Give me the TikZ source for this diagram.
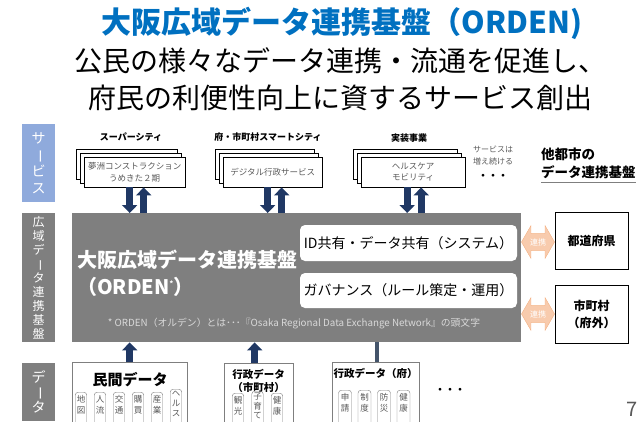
\documentclass[tikz,border=0pt]{standalone}
\usepackage{fontspec}
\setmainfont{Noto Sans CJK JP}
\usetikzlibrary{arrows.meta,shapes.arrows}
\definecolor{ordenblue}{HTML}{0070C0}
\definecolor{navy}{HTML}{203864}
\definecolor{slate}{HTML}{44546A}
\definecolor{panelgray}{HTML}{7F7F7F}
\definecolor{svcblue}{HTML}{8FAADC}
\definecolor{textgray}{HTML}{595959}
\definecolor{notegray}{HTML}{D9D9D9}
\definecolor{linkfill}{HTML}{F8CBAD}
\definecolor{linkedge}{HTML}{F4B183}
\newcommand\fsz[2]{\fontsize{#1}{#2}\selectfont}
\newcommand\vbar{\rotatebox[origin=c]{-90}{ー}}

\begin{document}
\begin{tikzpicture}[x=1pt,y=-1pt,
  every node/.style={inner sep=0pt},
  sidebar/.style={fill=#1,minimum width=33,text=white,align=center},
  svcbox/.style={draw=black,fill=white,anchor=north west,minimum height=30,
    align=center,text=textgray,font=\fsz{8.5}{11.5}},
  svclabel/.style={font=\bfseries\fsz{9}{9}},
  infobox/.style={fill=white,rounded corners=5pt,minimum width=217,font=\fsz{14}{14}},
  sidebox/.style={draw=black,fill=white,minimum width=73,align=center,
    font=\bfseries\fsz{12}{17}},
  linkarrow/.style={double arrow,draw=linkedge,fill=linkfill,minimum height=33,
    double arrow head extend=8pt,double arrow tip angle=120,
    inner xsep=0pt,inner ysep=4.5pt,text=white,font=\fsz{8}{8}},
  databox/.style={draw=panelgray,fill=white,anchor=north west,minimum height=70},
  chip/.style={draw=panelgray,rounded corners=3pt,anchor=north,align=center,
    inner xsep=1.5pt,inner ysep=3pt,text depth=40pt,text=textgray,font=\fsz{8.5}{11.5}},
  navyarrow/.style={navy,line width=7pt,-{Triangle[length=8pt,width=15pt]}}]
\useasboundingbox (0,0) rectangle (644,421);
\clip (0,0) rectangle (644,421);

% heading
\node[text=ordenblue,font=\bfseries\fsz{30}{30}] (title) at (342,23) {大阪広域データ連携基盤（ORDEN)};
\node[font=\fsz{28}{28}] (lead1) at (340,61) {公民の様々なデータ連携・流通を促進し、};
\node[font=\fsz{28}{28}] (lead2) at (340,98) {府民の利便性向上に資するサービス創出};

% layer labels
\node[sidebar=svcblue,minimum height=78,font=\fsz{14}{16.5}] (laysvc) at (38.5,163) {サ\\\vbar\\ビ\\ス};
\node[sidebar=panelgray,minimum height=129,font=\fsz{12}{14}] (layhub) at (38.5,277.5)
  {広\\域\\デ\\\vbar\\タ\\連\\携\\基\\盤};
\node[sidebar=panelgray,minimum height=58,font=\fsz{14}{14}] (laydata) at (38.5,392) {デ\\\vbar\\タ};

% services
\node[svclabel] (lblsuper) at (131,137) {スーパーシティ};
\node[svclabel] (lblsmart) at (268,137) {府・市町村スマートシティ};
\node[svclabel] (lblimpl) at (409,138) {実装事業};
\node[svcbox,minimum width=101] (svc1) at (84,157) {夢洲コンストラクション\\うめきた２期};
\node[svcbox,minimum width=99] (svc2) at (223,157) {デジタル行政サービス};
\node[svcbox,minimum width=104] (svc3) at (361,157) {ヘルスケア\\モビリティ};
\foreach \s in {svc1,svc2,svc3}
  \foreach \d in {8,4}
    \draw[fill=white] ([shift={(-\d,-\d)}]\s.north west) rectangle ([shift={(-\d,-\d)}]\s.south east);
% redraw front boxes on top
\node[svcbox,minimum width=101] at (84,157) {夢洲コンストラクション\\うめきた２期};
\node[svcbox,minimum width=99] at (223,157) {デジタル行政サービス};
\node[svcbox,minimum width=104] at (361,157) {ヘルスケア\\モビリティ};
\node[align=center,text=textgray,font=\fsz{8}{12}] (grow) at (493,156) {サービスは\\増え続ける};
\node[font=\bfseries\fsz{10}{10}] (svcdots) at (493,177) {・・・};
\node[anchor=north west,align=left,font=\bfseries\fsz{13.5}{18}] (others) at (541,148) {他都市の\\データ連携基盤};
\draw[panelgray] ([yshift=-3pt]others.south west) -- ([yshift=-3pt]others.south east);

% platform
\node[fill=panelgray,anchor=north west,minimum width=449,minimum height=129] (hub) at (72,213) {};
\node[anchor=west,align=left,text=white,font=\bfseries\fsz{20}{27}] (hubname) at (77,273)
  {大阪広域データ連携基盤\\（ORDEN\textsuperscript{\fsz{7}{7}*}）};
\node[infobox,minimum height=36] (sys) at (408.5,243) {ID共有・データ共有（システム）};
\node[infobox,minimum height=35] (gov) at (408.5,290.5) {ガバナンス（ルール策定・運用）};
\node[text=notegray,font=\fsz{9.8}{9.8}] (note) at (294,324)
  {* ORDEN（オルデン）とは･･･『Osaka Regional Data Exchange Network』の頭文字};

\foreach \s/\x in {svc1/-5,svc2/-5,svc3/-6} {
  \draw[navyarrow] ([xshift=\x pt]\s.south) -- ([xshift=\x pt]\s.south |- hub.north);
  \draw[navyarrow] ([xshift=\x pt+14pt]\s.south |- hub.north) -- ([xshift=\x pt+14pt]\s.south);
}

% other platforms
\node[sidebox,minimum height=57] (pref) at (591.5,240.5) {都道府県};
\node[sidebox,minimum height=58] (muni) at (591.5,314) {市町村\\（府外）};
\node[linkarrow] (link1) at (538,242) {連携};
\node[linkarrow] (link2) at (538,314) {連携};

% data
\node[databox,minimum width=115] (db1) at (72,362) {};
\node[databox,minimum width=69] (db2) at (224,363) {};
\node[databox,minimum width=87] (db3) at (332,362) {};
\node[font=\bfseries\fsz{15}{15}] (db1t) at (130,380) {民間データ};
\node[align=center,font=\bfseries\fsz{10.5}{13}] (db2t) at (258.5,380.5) {行政データ\\（市町村）};
\node[font=\bfseries\fsz{10.5}{10.5}] (db3t) at (375.5,373) {行政データ（府）};
\foreach \t [count=\i] in {地\\図,人\\流,交\\通,購\\買,産\\業}
  \node[chip] (pc\i) at (62+19*\i,392) {\t};
\node[chip,inner ysep=2pt,font=\fsz{8.5}{9.8}] (pc6) at (176,389) {ヘ\\ル\\ス};
\node[chip] (mc1) at (238,393) {観\\光};
\node[chip,inner ysep=2pt,font=\fsz{8.5}{9.5}] (mc2) at (257.5,391) {子\\育\\て};
\node[chip] (mc3) at (277,393) {健\\康};
\foreach \t [count=\i] in {申\\請,制\\度,防\\災,健\\康}
  \node[chip,minimum width=13] (fc\i) at (325.5+19.5*\i,390) {\t};
\node[font=\bfseries\fsz{10}{10}] (datadots) at (450,391) {・・・};
\draw[navyarrow] (db1.north) -- (db1.north |- hub.south);
\draw[navyarrow] ([xshift=-4pt]db2.north) -- ([xshift=-4pt]db2.north |- hub.south);
\draw[slate,line width=4pt] ([xshift=1.5pt]db3.north) -- ([xshift=1.5pt]db3.north |- hub.south);

\node[text=textgray,font=\fsz{20}{20}] (pagenum) at (632,409) {7};
\end{tikzpicture}
\end{document}
